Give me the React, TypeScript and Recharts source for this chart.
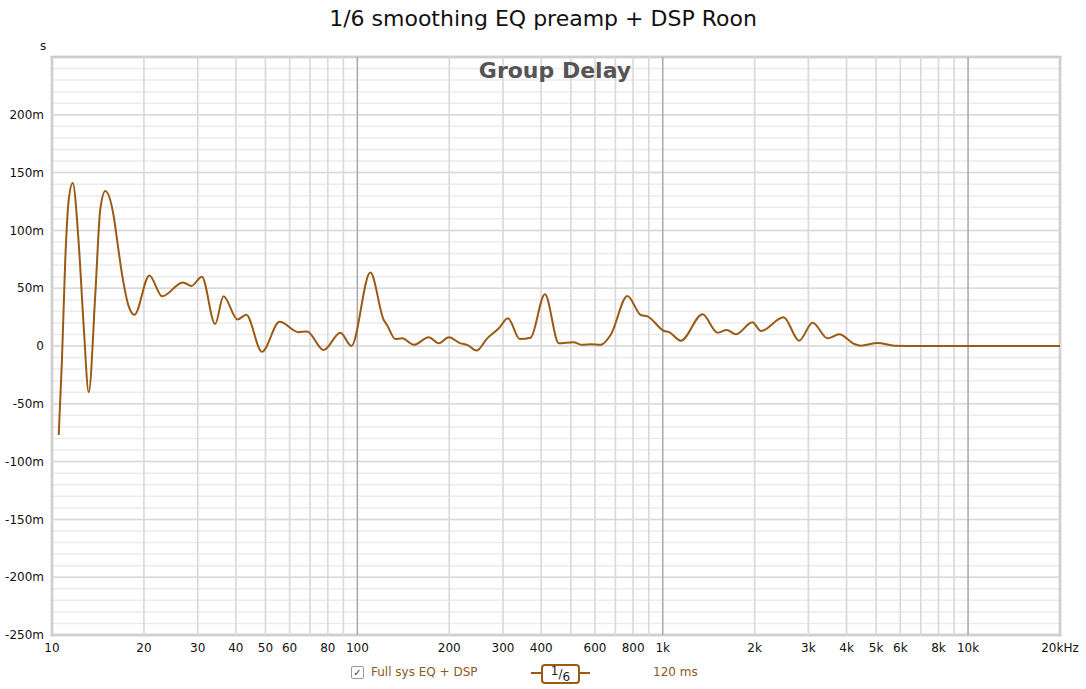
import React from 'react';
import {
  ComposedChart, Line, XAxis, YAxis, CartesianGrid,
  ReferenceLine, ReferenceArea,
} from 'recharts';

// frequency (Hz) and group delay (ms)
const freqs = [
  10.52, 10.78, 11.05, 11.34, 11.69, 12.23, 12.7, 13.19, 13.87, 14.39,
  14.95, 15.93, 16.41, 16.96, 17.85, 18.61, 20.84, 22.94, 26.83, 28.62, 30.96,
  34.22, 36.44, 40.51, 43.26, 48.7, 55.64, 64.2, 68.42, 77.53, 87.98,
  95.57, 110.3, 122, 125.2, 133.2, 140.2, 153, 171.3, 184.8, 199.3,
  217.7, 228.9, 245.6, 266.2, 290.6, 311.1, 340.5, 369.2, 411.3, 457.1,
  509.6, 545.3, 580.6, 626.1, 675.3, 766.1, 847.4, 894.9, 1010, 1049,
  1146, 1350, 1511, 1621, 1735, 1968, 2096, 2487, 2798, 3096,
  3467, 3785, 4240, 4458, 5057, 5733, 7000, 10000, 20000,
];
const delayMs = [
  -77, -12, 74, 126, 141, 89, 17, -40, 46, 118,
  134, 112, 88, 62, 34, 27, 61, 43, 55, 52, 60,
  19, 43, 23, 27, -5, 21, 12, 12.5, -3.5, 11.5,
  0, 63.5, 22.5, 18, 6, 6.6, 1, 7.5, 2.3, 7.5,
  2.3, 1, -4, 6.6, 15.3, 24, 6, 7.2, 44.8, 2.3,
  3.2, 1, 1.5, 1, 9.5, 43.3, 26.8, 25.4, 13, 12,
  4.6, 27.4, 11.5, 13.9, 10.1, 20.5, 13, 24.8, 4.6, 20.2,
  6.6, 10.1, 1.7, 0.3, 2.6, 0.3, 0, 0, 0,
];

const xTicks = [
  10, 20, 30, 40, 50, 60, 70, 80, 90,
  100, 200, 300, 400, 500, 600, 700, 800, 900,
  1000, 2000, 3000, 4000, 5000, 6000, 7000, 8000, 9000,
  10000, 20000,
];
const xLabels: Record<number, string> = {
  10: '10', 20: '20', 30: '30', 40: '40', 50: '50', 60: '60', 80: '80',
  100: '100', 200: '200', 300: '300', 400: '400', 600: '600', 800: '800',
  1000: '1k', 2000: '2k', 3000: '3k', 4000: '4k', 5000: '5k', 6000: '6k',
  8000: '8k', 10000: '10k', 20000: '20kHz',
};
const decades = [100, 1000, 10000];
const yMinor = Array.from({ length: 51 }, (_, i) => -250 + i * 10);
const yMajor = [-250, -200, -150, -100, -50, 0, 50, 100, 150, 200, 250];

const data = freqs.map((f, i) => ({ f, gd: delayMs[i] }));

const font = '"DejaVu Sans", "Liberation Sans", sans-serif';
const brown = '#9b5a14';

const fmtY = (v: number) => {
  if (v % 50 !== 0 || v === 250) return '';
  return v === 0 ? '0' : `${v}m`;
};

export default function App() {
  return (
    <div style={{ position: 'absolute', left: 0, top: 0, width: 1086, height: 689, background: '#fff', fontFamily: font }}>
      <div style={{ position: 'absolute', top: 6, width: 1086, textAlign: 'center', fontSize: 22, color: '#111' }}>
        1/6 smoothing EQ preamp + DSP Roon
      </div>
      <div style={{ position: 'absolute', left: 40, top: 39, fontSize: 12, color: '#111' }}>s</div>

      <ComposedChart width={1086} height={689} data={data} margin={{ top: 57, right: 26, bottom: 24, left: 0 }}>
        <CartesianGrid stroke="#ebebeb" strokeWidth={1.5} />
        <XAxis
          dataKey="f"
          type="number"
          scale="log"
          domain={[10, 20000]}
          ticks={xTicks}
          interval={0}
          tickFormatter={(v: number) => xLabels[v] ?? ''}
          tick={{ fill: '#111', fontSize: 12, fontFamily: font }}
          tickLine={false}
          axisLine={false}
          height={30}
          allowDataOverflow
        />
        <YAxis
          type="number"
          domain={[-250, 250]}
          ticks={yMinor}
          interval={0}
          tickFormatter={fmtY}
          tick={{ fill: '#111', fontSize: 12, fontFamily: font }}
          tickLine={false}
          axisLine={false}
          width={52}
          allowDataOverflow
        />
        {yMajor.map((v) => (
          <ReferenceLine key={`h${v}`} y={v} stroke="#d9d9d9" strokeWidth={1.5} />
        ))}
        {xTicks.filter((t) => !decades.includes(t)).map((t) => (
          <ReferenceLine key={`v${t}`} x={t} stroke="#dadada" strokeWidth={1.5} />
        ))}
        {decades.map((t) => (
          <ReferenceLine key={`d${t}`} x={t} stroke="#ababab" strokeWidth={1.5} />
        ))}
        <ReferenceArea x1={10} x2={20000} y1={-250} y2={250} fill="none" stroke="#b3b3b3" strokeWidth={2.5} ifOverflow="visible" />
        <Line
          type="monotone"
          dataKey="gd"
          stroke={brown}
          strokeWidth={2}
          dot={false}
          isAnimationActive={false}
        />
      </ComposedChart>

      <div style={{ position: 'absolute', top: 58, width: 1110, textAlign: 'center', fontSize: 22, fontWeight: 'bold', color: '#555' }}>
        Group Delay
      </div>

      <div style={{ position: 'absolute', left: 351, top: 666, width: 11, height: 11, border: '1px solid #999', borderRadius: 2, fontSize: 10, lineHeight: '11px', textAlign: 'center', color: '#333' }}>✓</div>
      <div style={{ position: 'absolute', left: 371, top: 665, fontSize: 12, color: '#8a5a22' }}>Full sys EQ + DSP</div>
      <div style={{ position: 'absolute', left: 531, top: 672, width: 59, height: 2, background: brown }} />
      <div style={{ position: 'absolute', left: 541, top: 664, width: 35, height: 16, border: `2px solid ${brown}`, borderRadius: 4, background: '#fff', fontSize: 12, color: '#222', textAlign: 'center', lineHeight: '16px' }}>
        <span style={{ position: 'relative', top: -3 }}>1</span>
        <span>/</span>
        <span style={{ position: 'relative', top: 3 }}>6</span>
      </div>
      <div style={{ position: 'absolute', left: 653, top: 665, fontSize: 12, color: '#8a5a22' }}>120 ms</div>
    </div>
  );
}
